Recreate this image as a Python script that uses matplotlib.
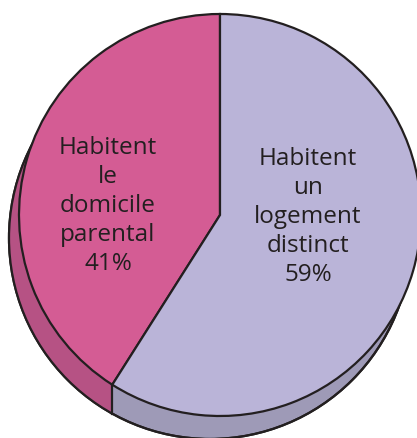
import numpy as np
import matplotlib
matplotlib.use("Agg")
import matplotlib.pyplot as plt
from matplotlib.patches import Circle, Rectangle

# data
labels = ["Habitent\nle\ndomicile\nparental", "Habitent\nun\nlogement\ndistinct"]
values = [41, 59]
top_colors = ["#d45c94", "#bab4d8"]
side_colors = ["#b65284", "#9e9ab7"]

W, H = 417, 439
cx, cy, r = 220, 223, 201        # top face (y up)
bx, by = 210, 200                # bottom face centre

fig = plt.figure(figsize=(W / 100, H / 100), dpi=100)
ax = fig.add_axes([0, 0, 1, 1])

# side of the disc
bottom = Circle((bx, by), r, facecolor=side_colors[1], edgecolor="#231f20", lw=1.6, zorder=1)
ax.add_patch(bottom)
theta = np.deg2rad(90 + 360 * values[0] / sum(values))
seam_x = cx + r * np.cos(theta)
seam_y = cy + r * np.sin(theta)
left_side = Rectangle((0, 0), seam_x, H, facecolor=side_colors[0], edgecolor="none", zorder=1.5)
ax.add_patch(left_side)
left_side.set_clip_path(bottom)
ax.add_patch(Circle((bx, by), r, facecolor="none", edgecolor="#231f20", lw=1.6, zorder=1.6))
seam_bottom = by - np.sqrt(r ** 2 - (seam_x - bx) ** 2)
ax.plot([seam_x, seam_x], [seam_y, seam_bottom], color="#231f20", lw=1.6, zorder=1.7)

# top face
ax.pie(values, colors=top_colors, startangle=90, counterclock=True,
       center=(cx, cy), radius=r, frame=True,
       wedgeprops=dict(edgecolor="#231f20", linewidth=1.6, zorder=2))

txt = dict(ha="center", va="center", fontsize=17.5, color="#231f20",
           family="Open Sans", linespacing=1.27, zorder=3)
ax.text(108, H - 206, labels[0] + "\n%d%%" % values[0], **txt)
ax.text(308, H - 217, labels[1] + "\n%d%%" % values[1], **txt)

ax.set_xlim(0, W)
ax.set_ylim(0, H)
ax.set_aspect("auto")
ax.axis("off")
fig.savefig("out.png", dpi=100)
